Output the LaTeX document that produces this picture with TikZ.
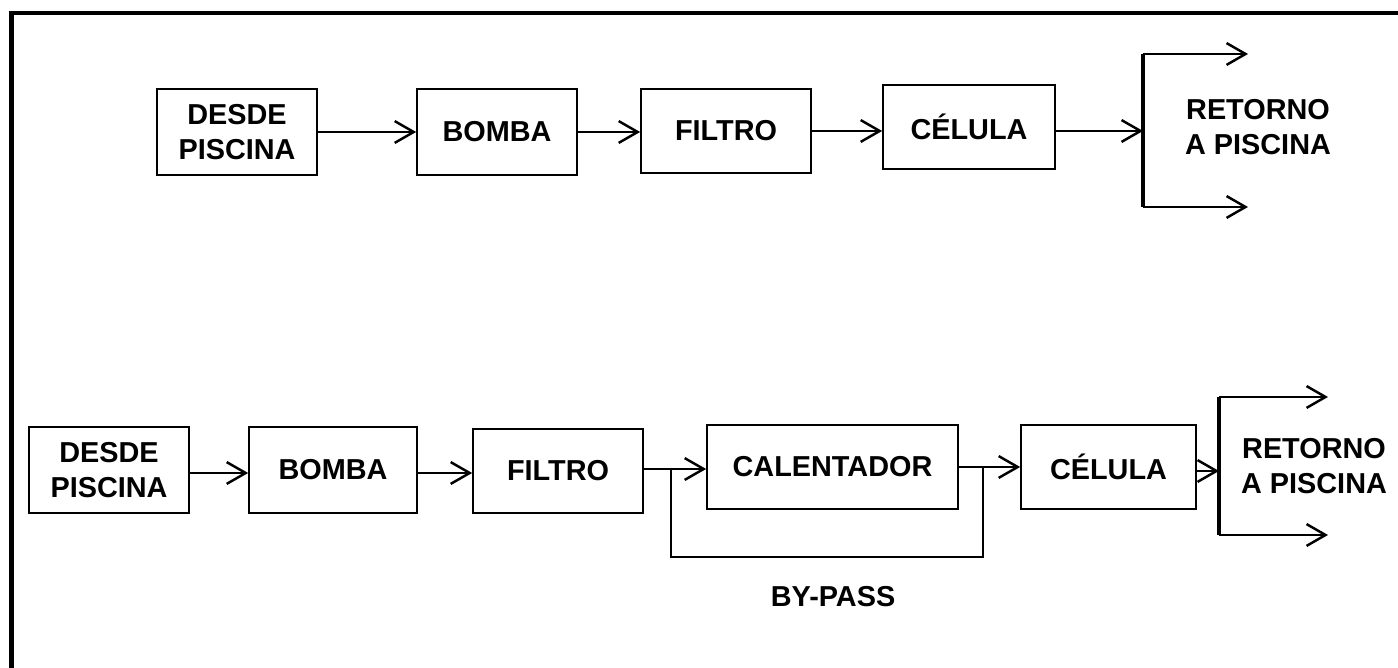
\documentclass[tikz,border=0pt]{standalone}
\usepackage{fontspec}
\setmainfont{Liberation Sans}
\usepackage{tikz}
\usetikzlibrary{arrows.meta,calc}

\begin{document}
\begin{tikzpicture}[x=0.01cm, y=-0.01cm,
    every node/.style={font=\fontsize{8.2}{10}\selectfont\bfseries, align=center},
    blk/.style={draw, line width=0.45pt, inner sep=0pt},
    flow/.style={line width=0.7pt, -{Straight Barb[length=5.4pt,width=6.2pt]}},
    pipe/.style={line width=0.7pt},
    bar/.style={line width=0.9pt}]

    % === Page and outer frame ===
    \clip (0,0) rectangle (1398,668);
    \draw[line width=1.3pt] (11.5,700) -- (11.5,13) -- (1420,13);

    % === Upper circuit (without heater) ===
    \node[blk, minimum width=1.60cm, minimum height=0.86cm] (dsd1) at (237,132) {DESDE\\PISCINA};
    \node[blk, minimum width=1.60cm, minimum height=0.86cm] (bmb1) at (497,132) {BOMBA};
    \node[blk, minimum width=1.70cm, minimum height=0.84cm] (flt1) at (726,131) {FILTRO};
    \node[blk, minimum width=1.72cm, minimum height=0.84cm] (cel1) at (969,127) {CÉLULA};
    \node (ret1) at (1258,127) {RETORNO\\A PISCINA};

    \coordinate (spl1a) at (1143,54);
    \coordinate (spl1b) at (1143,207);
    \coordinate (out1a) at (1248,54);
    \coordinate (out1b) at (1248,207);

    \draw[flow] (dsd1.east) -- (dsd1.east -| bmb1.west);
    \draw[flow] (bmb1.east) -- (bmb1.east -| flt1.west);
    \draw[flow] (flt1.east) -- (flt1.east -| cel1.west);
    \draw[flow] ($(cel1.east)+(0,4)$) -- ($(cel1.east -| spl1a)+(0,4)$);
    \draw[bar] (spl1a) -- (spl1b);
    \draw[flow] (spl1a) -- (out1a);
    \draw[flow] (spl1b) -- (out1b);

    % === Lower circuit (with heater and by-pass) ===
    \node[blk, minimum width=1.60cm, minimum height=0.86cm] (dsd2) at (109,470) {DESDE\\PISCINA};
    \node[blk, minimum width=1.68cm, minimum height=0.86cm] (bmb2) at (333,470) {BOMBA};
    \node[blk, minimum width=1.70cm, minimum height=0.84cm] (flt2) at (558,471) {FILTRO};
    \node[blk, minimum width=2.51cm, minimum height=0.84cm] (cal2) at (832.5,467) {CALENTADOR};
    \node[blk, minimum width=1.75cm, minimum height=0.84cm] (cel2) at (1108.5,467) {CÉLULA};
    \node (ret2) at (1314,466) {RETORNO\\A PISCINA};
    \node (byp) at (833,597) {BY-PASS};

    \coordinate (spl2a) at (1219,397);
    \coordinate (spl2b) at (1219,535);
    \coordinate (out2a) at (1328,397);
    \coordinate (out2b) at (1328,535);
    \coordinate (bp1) at (671,469);
    \coordinate (bp2) at (983,467);

    \draw[flow] ($(dsd2.east)+(0,3)$) -- ($(dsd2.east -| bmb2.west)+(0,3)$);
    \draw[flow] ($(bmb2.east)+(0,3)$) -- ($(bmb2.east -| flt2.west)+(0,3)$);
    \draw[flow] ($(flt2.east)+(0,-2)$) -- ($(flt2.east -| cal2.west)+(0,-2)$);
    \draw[flow] (cal2.east) -- (cal2.east -| cel2.west);
    \draw[pipe] (bp1) -- ++(0,88) -| (bp2);
    \draw[flow] ($(cel2.east)+(0,4)$) -- ($(cel2.east -| spl2a)+(0,4)$);
    \draw[bar] (spl2a) -- (spl2b);
    \draw[flow] (spl2a) -- (out2a);
    \draw[flow] (spl2b) -- (out2b);
\end{tikzpicture}
\end{document}
